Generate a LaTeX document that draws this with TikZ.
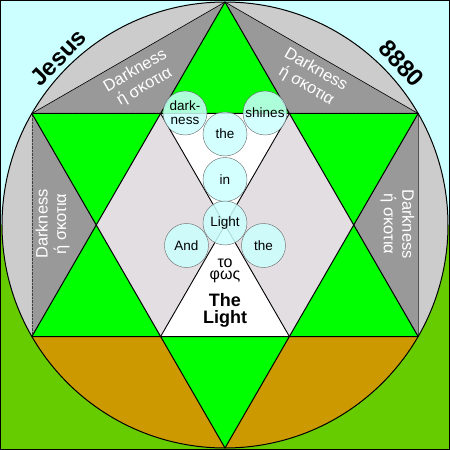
\documentclass[tikz,border=0pt]{standalone}
\usepackage{fontspec}
\setmainfont{Liberation Sans}
\definecolor{sky}{HTML}{CCFFFF}
\definecolor{grass}{HTML}{66CC00}
\definecolor{stargreen}{HTML}{00FF00}
\definecolor{ochre}{HTML}{CC9900}
\definecolor{rim}{HTML}{CCCCCC}
\definecolor{shadow}{HTML}{999999}
\definecolor{dither}{HTML}{E2DEE2}
\begin{document}
\begin{tikzpicture}[x=1pt,y=1pt,
  bubble/.style={circle,draw=gray!80!black,fill=sky,fill opacity=.85,text opacity=1,
    minimum size=44pt,inner sep=0pt,align=center,font=\fontsize{13.5}{14}\selectfont},
  skotia/.style={white,align=center,font=\fontsize{16.5}{18.5}\selectfont},
  title/.style={font=\bfseries\fontsize{24}{24}\selectfont}]
\useasboundingbox (-225,-225) rectangle (225,225);
\fill[sky] (-225,0) rectangle (225,225);
\fill[grass] (-225,-225) rectangle (225,0);
\coordinate (c) at (0,0);
\foreach \a in {30,90,150,210,270,330}
  \coordinate (o\a) at (\a:223);
\foreach \a in {0,60,120,180,240,300}
  \coordinate (h\a) at (\a:128.75);
\fill[rim] (c) circle (223);
\fill[ochre] (o210) arc[start angle=210,end angle=330,radius=223] -- cycle;
\fill[shadow] (o150) -- (o90) -- (o30) -- (o330) -- (o210) -- cycle;
\fill[stargreen] (o90) -- (o210) -- (o330) -- cycle (o270) -- (o30) -- (o150) -- cycle;
\fill[dither] (h0) -- (h60) -- (h120) -- (h180) -- (h240) -- (h300) -- cycle;
\fill[white] (h60) -- (h120) -- (c) -- cycle (h240) -- (h300) -- (c) -- cycle;
\draw[densely dotted,gray!30] ([yshift=1pt]o150) -- ([yshift=1pt]h120)
  ([yshift=1pt]h60) -- ([yshift=1pt]o30);
\draw[densely dotted,gray!50!black] (o150) -- (o210);
\draw[line width=1pt,gray!65!black] (o30) -- (o330);
\draw[line width=.6pt] (o150) -- (o90) -- (o30);
\draw[line width=1pt,line join=bevel] (o90) -- (o210) -- (o330) -- cycle
  (o270) -- (o30) -- (o150) -- cycle;
\draw[line width=.9pt] (h60) -- (h240) (h120) -- (h300);
\draw[line width=1pt] (c) circle (223);
\draw[line width=1.5pt] (-224.25,-224.25) rectangle (224.25,224.25);
% words of the verse
\foreach \n/\x/\y/\t in {darkness/-40/112/{dark-\\ness}, shines/40/112/shines,
    the/0/91/the, in/0/45.5/in, light/0/2/Light, and/-38.5/-20.5/And, theb/38.5/-20.5/the}
  \node[bubble] (\n) at (\x,\y) {\t};
\node[font=\fontsize{16}{16}\selectfont] (to) at (0,-38) {το};
\node[font=\fontsize{16}{16}\selectfont] (phos) at (0,-52) {φως};
\node[font=\bfseries\fontsize{18}{18}\selectfont] (thew) at (0,-75.5) {The};
\node[font=\bfseries\fontsize{18}{18}\selectfont] (lightw) at (0,-93.8) {Light};
\foreach \n/\x/\y/\r in {tl/-85/146/30, tr/86/147/-30, l/-172.5/1/90, r/172.5/1/-90}
  \node[skotia,rotate=\r] (sk\n) at (\x,\y) {Darkness\\ή σκοτια};
\node[title,rotate=46] (jesus) at (-166.5,167.5) {Jesus};
\node[title,rotate=-47] (num) at (176.5,161.5) {8880};
\end{tikzpicture}
\end{document}
